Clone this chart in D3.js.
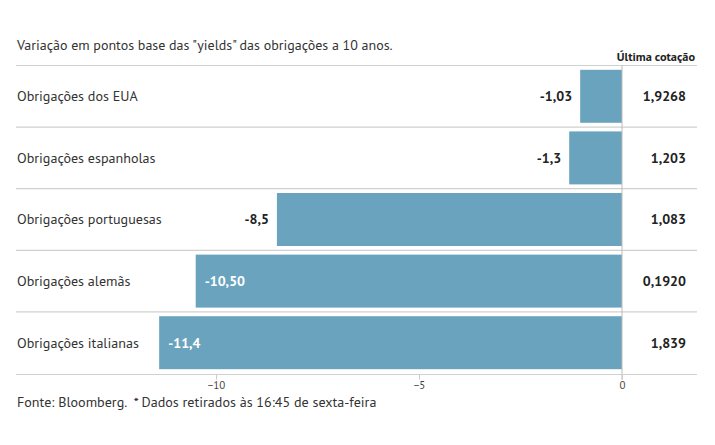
<!DOCTYPE html>
<html><head><meta charset="utf-8">
<script src="https://cdn.jsdelivr.net/npm/d3@7"></script>
<style>
body{margin:0;background:#fff;}
svg text{font-family:"PT Sans",Lato,"Open Sans",sans-serif;}
</style></head>
<body><svg id="c" width="715" height="445"></svg>
<script>
const categories = ["Obrigações dos EUA","Obrigações espanholas","Obrigações portuguesas","Obrigações alemãs","Obrigações italianas"];
const changes = [-1.03, -1.3, -8.5, -10.50, -11.4];
const changeLabels = ["-1,03","-1,3","-8,5","-10,50","-11,4"];
const lastQuotes = ["1,9268","1,203","1,083","0,1920","1,839"];
const tickValues = [-10, -5, 0];
const title = "Variação em pontos base das \"yields\" das obrigações a 10 anos.";
const quoteHeader = "Última cotação";
const footer = "Fonte: Bloomberg.  * Dados retirados às 16:45 de sexta-feira";

const svg = d3.select("#c");
const x = d3.scaleLinear().domain([-15, 0]).range([13, 622]);
const y = d3.scaleBand().domain(categories).range([65.5, 373.5]).paddingInner(0.14).paddingOuter(0.07);
const rowH = (373.5-65.5)/categories.length;
const rowTop = i => 65.5 + i*rowH;

svg.append("text").attr("x",17).attr("y",50).attr("font-size",14).attr("fill","#333").text(title);
svg.append("text").attr("x",695).attr("y",61).attr("text-anchor","end").attr("font-size",12.3).attr("font-weight","bold").attr("fill","#222").text(quoteHeader);

// separators
const seps = d3.range(categories.length+1).map(rowTop);
svg.selectAll("line.sep").data(seps.slice(0,-1)).join("line").attr("class","sep")
  .attr("x1",16).attr("x2",697).attr("y1",d=>d).attr("y2",d=>d)
  .attr("stroke","#d0d0d0").attr("stroke-width",1.2);

// bars
svg.selectAll("rect.bar").data(categories).join("rect").attr("class","bar")
  .attr("x",(d,i)=>x(changes[i])).attr("width",(d,i)=>x(0)-x(changes[i]))
  .attr("y",d=>y(d)).attr("height",y.bandwidth()).attr("fill","#6aa3be");

// zero line
svg.append("line").attr("x1",x(0)).attr("x2",x(0)).attr("y1",65.5).attr("y2",380).attr("stroke","#bbb").attr("stroke-width",1);

// axis
const ax = svg.append("g").attr("transform","translate(0,374.5)")
  .call(d3.axisBottom(x).tickValues(tickValues).tickSize(5).tickFormat(d3.format("d")));
ax.select(".domain").remove();
ax.selectAll(".tick line").attr("stroke","#ccc");
ax.selectAll(".tick text").attr("font-size",11).attr("fill","#444").attr("dy","0.6em").attr("font-family","'PT Sans',Lato,sans-serif");
svg.append("line").attr("x1",16).attr("x2",697).attr("y1",374.5).attr("y2",374.5).attr("stroke","#d0d0d0").attr("stroke-width",1.2);

// category labels
svg.selectAll("text.cat").data(categories).join("text").attr("class","cat")
  .attr("x",17).attr("y",d=>y(d)+y.bandwidth()/2).attr("dy","0.35em")
  .attr("font-size",14.1).attr("fill","#333").text(d=>d);

// value labels
svg.selectAll("text.val").data(categories).join("text").attr("class","val")
  .each(function(d,i){
    const inside = changes[i] < -10;
    d3.select(this).attr("x", inside ? x(changes[i])+9 : x(changes[i])-8)
      .attr("text-anchor", inside ? "start" : "end")
      .attr("fill", inside ? "#fff" : "#222");
  })
  .attr("y",d=>y(d)+y.bandwidth()/2).attr("dy","0.35em")
  .attr("font-size",14).attr("font-weight","bold").text((d,i)=>changeLabels[i]);

// quotes
svg.selectAll("text.q").data(categories).join("text").attr("class","q")
  .attr("x",686).attr("y",d=>y(d)+y.bandwidth()/2).attr("dy","0.35em").attr("text-anchor","end")
  .attr("font-size",14).attr("font-weight","bold").attr("fill","#222").text((d,i)=>lastQuotes[i]);

svg.append("text").attr("x",17).attr("y",407).attr("font-size",14.1).attr("fill","#333")
  .style("white-space","pre").text(footer);
</script></body></html>
